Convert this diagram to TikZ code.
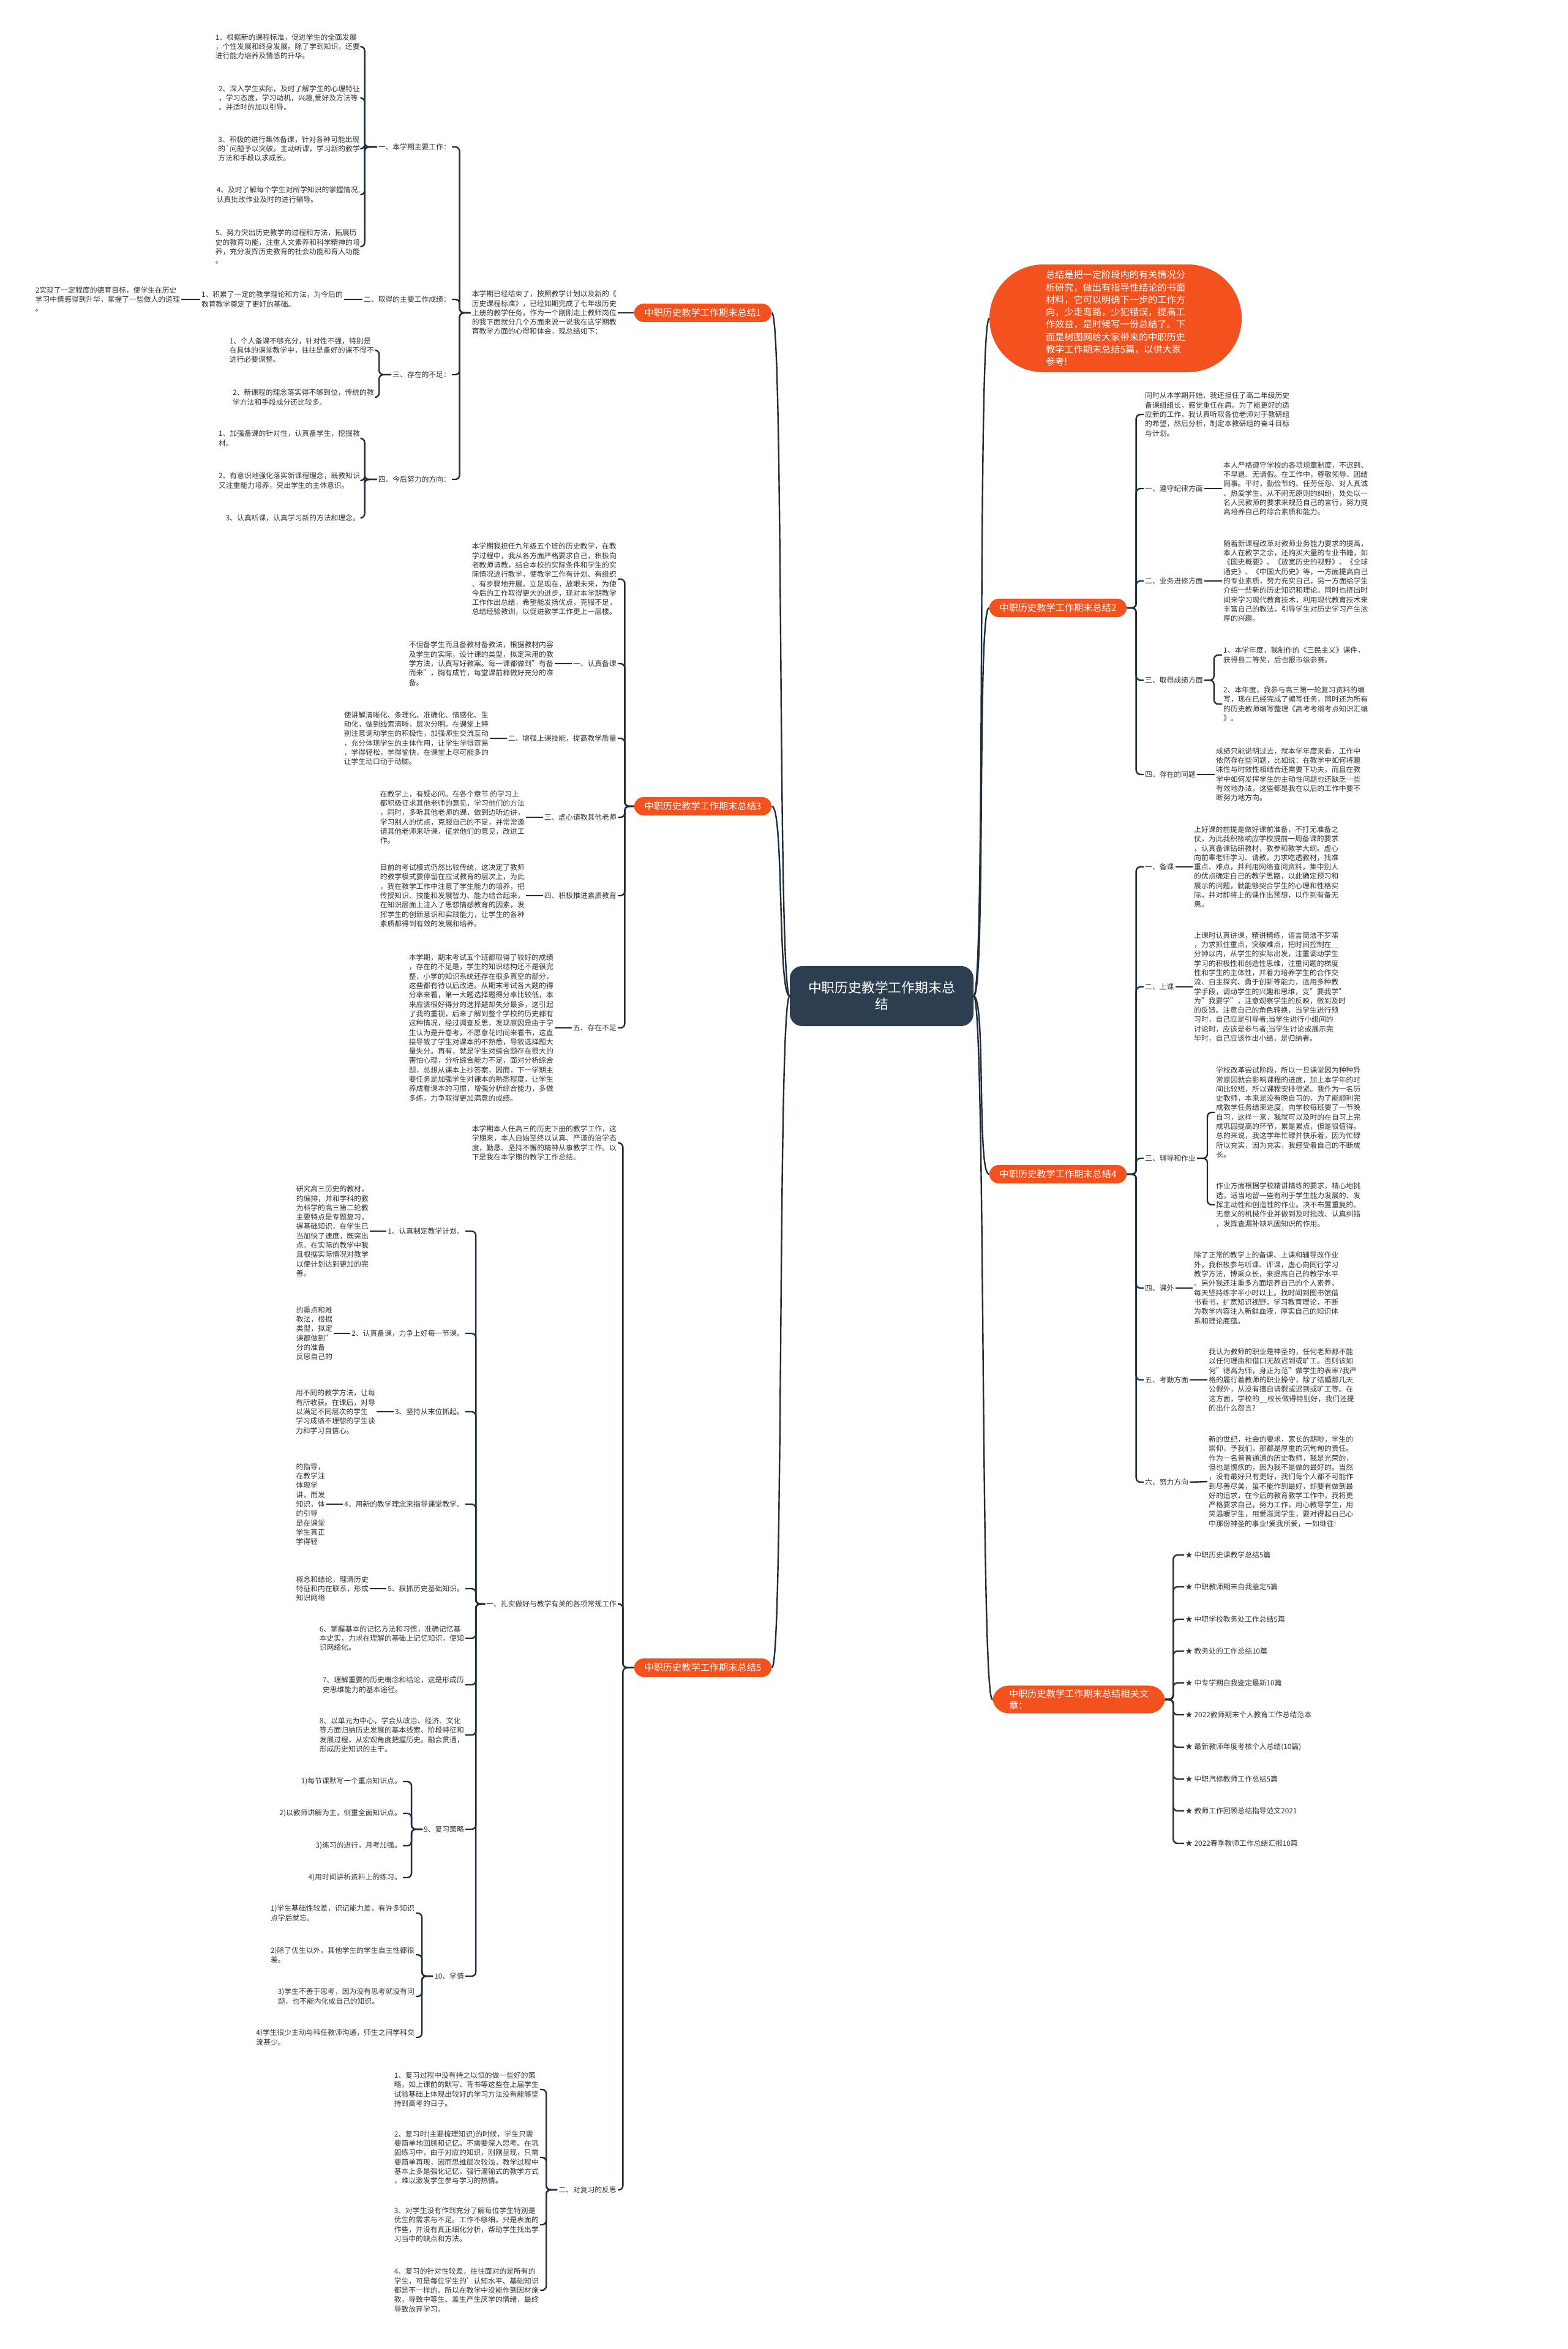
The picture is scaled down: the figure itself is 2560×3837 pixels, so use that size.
\documentclass[tikz,border=0pt]{standalone}
\usepackage{fontspec}
\setmainfont{Noto Sans CJK SC}
\usetikzlibrary{positioning}
\definecolor{brorange}{HTML}{F3521F}
\definecolor{rootblue}{HTML}{2C3E50}
\definecolor{linkcol}{HTML}{1F2D3D}
\definecolor{txtgray}{HTML}{333333}
\begin{document}
\begin{tikzpicture}[x=1pt,y=-1pt,
    cn/.style={draw=linkcol,line width=2.4pt},
    txt/.style={font=\fontsize{11.8}{15.3}\selectfont,text=txtgray,align=left,inner sep=2pt},
    lt/.style={txt,anchor=east},
    rt/.style={txt,anchor=west},
    branch/.style={fill=brorange,rounded corners=16pt,text=white,align=left,
                   font=\fontsize{15.2}{19}\selectfont,inner xsep=17pt,inner ysep=8pt},
    root/.style={fill=rootblue,rounded corners=20pt,text=white,align=center,
                 font=\fontsize{21.8}{27}\selectfont,minimum width=300pt,minimum height=98pt},
    note/.style={fill=brorange,rounded corners=88pt,text=white,align=left,
                 font=\fontsize{15.2}{20.3}\selectfont,minimum width=412pt,minimum height=176pt},
    lk/.style={cn,rounded corners=7pt,to path={-- ++(-#1,0) |- (\tikztotarget)}},
    lk/.default=15,
    rk/.style={cn,rounded corners=7pt,to path={-- ++(#1,0) |- (\tikztotarget)}},
    rk/.default=15
  ]
\useasboundingbox (0,0) rectangle (2560,3837);
\fill[white] (0,0) rectangle (2560,3837);

% centre
\node[root] (c) at (1440,1627) {中职历史教学工作期末总\\结};

% summary note
\node[note] (t0) at (1822,520) {总结是把一定阶段内的有关情况分\\析研究，做出有指导性结论的书面\\材料，它可以明确下一步的工作方\\向，少走弯路，少犯错误，提高工\\作效益，是时候写一份总结了。下\\面是树图网给大家带来的中职历史\\教学工作期末总结5篇，以供大家\\参考!};

% branch 1
\node[branch] (b1) at (1148,511) {中职历史教学工作期末总结1};
\node[lt] (b1p) at (1009,511) {本学期已经结束了，按照教学计划以及新的《\\历史课程标准》，已经如期完成了七年级历史\\上册的教学任务，作为一个刚刚走上教师岗位\\的我下面就分几个方面来说一说我在这学期教\\育教学方面的心得和体会，现总结如下：};
\node[lt] (b1s1) at (738,240) {一、本学期主要工作：};
\node[lt] (b1s2) at (738,489) {二、取得的主要工作成绩：};
\node[lt] (b1s3) at (738,612) {三、存在的不足：};
\node[lt] (b1s4) at (738,783) {四、今后努力的方向：};
\node[lt] (b1a1) at (590,76) {1、根据新的课程标准，促进学生的全面发展\\，个性发展和终身发展。除了学到知识，还要\\进行能力培养及情感的升华。};
\node[lt] (b1a2) at (590,160) {2、深入学生实际，及时了解学生的心理特征\\，学习态度，学习动机，兴趣,爱好及方法等\\。并适时的加以引导。};
\node[lt] (b1a3) at (590,243) {3、积极的进行集体备课，针对各种可能出现\\的\textasciigrave 问题予以突破。主动听课，学习新的教学\\方法和手段以求成长。};
\node[lt] (b1a4) at (590,318) {4、及时了解每个学生对所学知识的掌握情况,\\认真批改作业及时的进行辅导。};
\node[lt] (b1a5) at (590,403) {5、努力突出历史教学的过程和方法，拓展历\\史的教育功能，注重人文素养和科学精神的培\\养，充分发挥历史教育的社会功能和育人功能\\。};
\node[lt] (b1b1) at (562,489) {1、积累了一定的教学理论和方法，为今后的\\教育教学奠定了更好的基础。};
\node[lt] (b1b2) at (296,489) {2实现了一定程度的德育目标，使学生在历史\\学习中情感得到升华，掌握了一些做人的道理\\。};
\node[lt] (b1c1) at (613,572) {1、个人备课不够充分，针对性不强，特别是\\在具体的课堂教学中，往往是备好的课不得不\\进行必要调整。};
\node[lt] (b1c2) at (613,649) {2、新课程的理念落实得不够到位，传统的教\\学方法和手段成分还比较多。};
\node[lt] (b1d1) at (590,716) {1、加强备课的针对性，认真备学生，挖掘教\\材。};
\node[lt] (b1d2) at (590,785) {2、有意识地强化落实新课程理念，既教知识\\又注重能力培养，突出学生的主体意识。};
\node[lt] (b1d3) at (590,846) {3、认真听课，认真学习新的方法和理念。};

% branch 3
\node[branch] (b3) at (1148,1317) {中职历史教学工作期末总结3};
\node[lt] (b3p) at (1009,946) {本学期我担任九年级五个班的历史教学，在教\\学过程中，我从各方面严格要求自己，积极向\\老教师请教，结合本校的实际条件和学生的实\\际情况进行教学，使教学工作有计划、有组织\\、有步骤地开展。立足现在，放眼未来，为使\\今后的工作取得更大的进步，现对本学期教学\\工作作出总结，希望能发扬优点，克服不足，\\总结经验教训，以促进教学工作更上一层楼。};
\node[lt] (b3s1) at (1009,1084) {一、认真备课};
\node[lt] (b3s2) at (1009,1206) {二、增强上课技能，提高教学质量};
\node[lt] (b3s3) at (1009,1335) {三、虚心请教其他老师};
\node[lt] (b3s4) at (1009,1463) {四、积极推进素质教育};
\node[lt] (b3s5) at (1009,1679) {五、存在不足};
\node[lt] (b3t1) at (906,1084) {不但备学生而且备教材备教法，根据教材内容\\及学生的实际，设计课的类型，拟定采用的教\\学方法，认真写好教案。每一课都做到"有备\\而来"，胸有成竹，每堂课前都做好充分的准\\备。};
\node[lt] (b3t2) at (800,1206) {使讲解清晰化、条理化、准确化、情感化、生\\动化，做到线索清晰，层次分明。在课堂上特\\别注意调动学生的积极性，加强师生交流互动\\，充分体现学生的主体作用，让学生学得容易\\，学得轻松，学得愉快，在课堂上尽可能多的\\让学生动口动手动脑。};
\node[lt] (b3t3) at (859,1335) {在教学上，有疑必问。在各个章节 的学习上\\都积极征求其他老师的意见，学习他们的方法\\，同时，多听其他老师的课，做到边听边讲，\\学习别人的优点，克服自己的不足，并常常邀\\请其他老师来听课，征求他们的意见，改进工\\作。};
\node[lt] (b3t4) at (859,1463) {目前的考试模式仍然比较传统，这决定了教师\\的教学模式要停留在应试教育的层次上，为此\\，我在教学工作中注意了学生能力的培养，把\\传授知识、技能和发展智力、能力结合起来，\\在知识层面上注入了思想情感教育的因素，发\\挥学生的创新意识和实践能力，让学生的各种\\素质都得到有效的发展和培养。};
\node[lt] (b3t5) at (906,1679) {本学期，期末考试五个班都取得了较好的成绩\\，存在的不足是，学生的知识结构还不是很完\\整，小学的知识系统还存在很多真空的部分，\\这些都有待以后改进。从期末考试各大题的得\\分率来看，第一大题选择题得分率比较低，本\\来应该很好得分的选择题却失分最多，这引起\\了我的重视，后来了解到整个学校的历史都有\\这种情况，经过调查反思，发现原因是由于学\\生认为是开卷考，不愿意花时间来看书，这直\\接导致了学生对课本的不熟悉，导致选择题大\\量失分。再有，就是学生对综合题存在很大的\\害怕心理，分析综合能力不足，面对分析综合\\题，总想从课本上抄答案，因而，下一学期主\\要任务是加强学生对课本的熟悉程度，让学生\\养成看课本的习惯，增强分析综合能力，多做\\多练，力争取得更加满意的成绩。};

% branch 5
\node[branch] (b5) at (1148,2724) {中职历史教学工作期末总结5};
\node[lt] (b5p) at (1009,1867) {本学期本人任高三的历史下册的教学工作，这\\学期来，本人自始至终以认真、严谨的治学态\\度，勤恳、坚持不懈的精神从事教学工作。以\\下是我在本学期的教学工作总结。};
\node[lt] (b5s1) at (1009,2620) {一、扎实做好与教学有关的各项常规工作};
\node[lt] (b5s2) at (1009,3577) {二、对复习的反思};
\node[lt] (b5a1) at (760,2011) {1、认真制定教学计划。};
\node[lt] (b5a2) at (760,2178) {2、认真备课，力争上好每一节课。};
\node[lt] (b5a3) at (760,2306) {3、坚持从末位抓起。};
\node[lt] (b5a4) at (760,2457) {4、用新的教学理念来指导课堂教学。};
\node[lt] (b5a5) at (760,2595) {5、狠抓历史基础知识。};
\node[lt] (b5a6) at (760,2676) {6、掌握基本的记忆方法和习惯，准确记忆基\\本史实，力求在理解的基础上记忆知识，使知\\识网络化。};
\node[lt] (b5a7) at (760,2752) {7、理解重要的历史概念和结论，这是形成历\\史思维能力的基本途径。};
\node[lt] (b5a8) at (760,2834) {8、以单元为中心，学会从政治、经济、文化\\等方面归纳历史发展的基本线索、阶段特征和\\发展过程，从宏观角度把握历史。融会贯通，\\形成历史知识的主干。};
\node[lt] (b5a9) at (760,2988) {9、复习策略};
\node[lt] (b5a10) at (760,3228) {10、学情};
\node[lt] (b5a1t) at (604,2011) {研究高三历史的教材，\\的编排，并和学科的教\\为科学的高三第二轮教\\主要特点是专题复习，\\握基础知识，在学生已\\当加快了速度，既突出\\点。在实际的教学中我\\且根据实际情况对教学\\以使计划达到更加的完\\善。};
\node[lt] (b5a2t) at (545,2178) {的重点和难\\教法，根据\\类型，拟定\\课都做到"\\分的准备\\反思自己的};
\node[lt] (b5a3t) at (615,2306) {用不同的教学方法，让每\\有所收获。在课后，对导\\以满足不同层次的学生\\学习成绩不理想的学生谈\\力和学习自信心。};
\node[lt] (b5a4t) at (533,2457) {的指导，\\在教学注\\体现学\\讲，而发\\知识，体\\的引导\\是在课堂\\学生真正\\学得轻};
\node[lt] (b5a5t) at (604,2595) {概念和结论，理清历史\\特征和内在联系，形成\\知识网络};
\node[lt] (b5i1) at (658,2910) {1)每节课默写一个重点知识点。};
\node[lt] (b5i2) at (658,2962) {2)以教师讲解为主，侧重全面知识点。};
\node[lt] (b5i3) at (658,3015) {3)练习的进行，月考加强。};
\node[lt] (b5i4) at (658,3067) {4)用时间讲析资料上的练习。};
\node[lt] (b5j1) at (679,3125) {1)学生基础性较差，识记能力差，有许多知识\\点学后就忘。};
\node[lt] (b5j2) at (679,3193) {2)除了优生以外，其他学生的学生自主性都很\\差。};
\node[lt] (b5j3) at (679,3261) {3)学生不善于思考，因为没有思考就没有问\\题，也不能内化成自己的知识。};
\node[lt] (b5j4) at (679,3328) {4)学生很少主动与科任教师沟通，师生之间学科交\\流甚少。};
\node[lt] (b5k1) at (882,3413) {1、复习过程中没有持之以恒的做一些好的策\\略，如上课前的默写、背书等这些在上届学生\\试验基础上体现出较好的学习方法没有能够坚\\持到高考的日子。};
\node[lt] (b5k2) at (882,3524) {2、复习时(主要梳理知识)的时候，学生只需\\要简单地回顾和记忆。不需要深入思考。在巩\\固练习中，由于对应的知识，刚刚呈现，只需\\要简单再现，因而思维层次较浅，教学过程中\\基本上多是强化记忆，强行灌输式的教学方式\\，难以激发学生参与学习的热情。};
\node[lt] (b5k3) at (882,3634) {3、对学生没有作到充分了解每位学生特别是\\优生的需求与不足。工作不够细，只是表面的\\作些，并没有真正细化分析，帮助学生找出学\\习当中的缺点和方法。};
\node[lt] (b5k4) at (882,3741) {4、复习的针对性较差，往往面对的是所有的\\学生，可是每位学生的'认知水平、基础知识\\都是不一样的。所以在教学中没能作到因材施\\教，导致中等生、差生产生厌学的情绪，最终\\导致放弃学习。};

% branch 2
\node[branch] (b2) at (1728,993) {中职历史教学工作期末总结2};
\node[rt] (b2p) at (1868,677) {同时从本学期开始，我还担任了高二年级历史\\备课组组长，感觉重任在肩。为了能更好的适\\应新的工作，我认真听取各位老师对于教研组\\的希望，然后分析，制定本教研组的奋斗目标\\与计划。};
\node[rt] (b2s1) at (1868,798) {一、遵守纪律方面};
\node[rt] (b2s2) at (1868,949) {二、业务进修方面};
\node[rt] (b2s3) at (1868,1111) {三、取得成绩方面};
\node[rt] (b2s4) at (1868,1265) {四、存在的问题};
\node[rt] (b2t1) at (1996,798) {本人严格遵守学校的各项规章制度，不迟到、\\不早退、无请假。在工作中，尊敬领导、团结\\同事。平时，勤俭节约、任劳任怨、对人真诚\\、热爱学生、从不闹无原则的纠纷，处处以一\\名人民教师的要求来规范自己的言行，努力提\\高培养自己的综合素质和能力。};
\node[rt] (b2t2) at (1996,949) {随着新课程改革对教师业务能力要求的提高，\\本人在教学之余，还购买大量的专业书籍，如\\《国史概要》、《放宽历史的视野》、《全球\\通史》、《中国大历史》等，一方面提高自己\\的专业素质，努力充实自己，另一方面给学生\\介绍一些新的历史知识和理论。同时也挤出时\\间来学习现代教育技术，利用现代教育技术来\\丰富自己的教法，引导学生对历史学习产生浓\\厚的兴趣。};
\node[rt] (b2c1) at (1996,1070) {1、本学年度，我制作的《三民主义》课件，\\获得县二等奖，后也报市级参赛。};
\node[rt] (b2c2) at (1996,1150) {2、本年度，我参与高三第一轮复习资料的编\\写，现在已经完成了编写任务，同时还为所有\\的历史教师编写整理《高考考纲考点知识汇编\\》。};
\node[rt] (b2t4) at (1984,1265) {成绩只能说明过去，就本学年度来看，工作中\\依然存在些问题，比如说：在教学中如何将趣\\味性与时效性相结合还需要下功夫，而且在教\\学中如何发挥学生的主动性问题也还缺乏一些\\有效地办法，这些都是我在以后的工作中要不\\断努力地方向。};

% branch 4
\node[branch] (b4) at (1728,1918) {中职历史教学工作期末总结4};
\node[rt] (b4s1) at (1868,1416) {一、备课};
\node[rt] (b4s2) at (1868,1612) {二、上课};
\node[rt] (b4s3) at (1868,1892) {三、辅导和作业};
\node[rt] (b4s4) at (1868,2104) {四、课外};
\node[rt] (b4s5) at (1868,2254) {五、考勤方面};
\node[rt] (b4s6) at (1868,2421) {六、努力方向};
\node[rt] (b4t1) at (1948,1416) {上好课的前提是做好课前准备，不打无准备之\\仗，为此我积极响应学校提前一周备课的要求\\，认真备课钻研教材，教参和教学大纲。虚心\\向前辈老师学习、请教，力求吃透教材，找准\\重点、难点，并利用网络查阅资料，集中别人\\的优点确定自己的教学思路，以此确定预习和\\展示的问题，就能够契合学生的心理和性格实\\际，并对即将上的课作出预想，以作到有备无\\患。};
\node[rt] (b4t2) at (1948,1612) {上课时认真讲课，精讲精练，语言简洁不罗嗦\\，力求抓住重点，突破难点，把时间控制在\_\_\\分钟以内，从学生的实际出发，注重调动学生\\学习的积极性和创造性思维，注重问题的梯度\\性和学生的主体性，并着力培养学生的合作交\\流、自主探究、勇于创新等能力，运用多种教\\学手段，调动学生的兴趣和思维，变"要我学"\\为"我要学"，注意观察学生的反映，做到及时\\的反馈。注意自己的角色转换，当学生进行预\\习时，自己应是引导者;当学生进行小组间的\\讨论时，应该是参与者;当学生讨论或展示完\\毕时，自己应该作出小结，是归纳者。};
\node[rt] (b4c1) at (1984,1817) {学校改革尝试阶段，所以一旦课堂因为种种异\\常原因就会影响课程的进度，加上本学年的时\\间比较短，所以课程安排很紧。我作为一名历\\史教师，本来是没有晚自习的，为了能顺利完\\成教学任务结束进度，向学校每班要了一节晚\\自习，这样一来，我就可以及时的在自习上完\\成巩固提高的环节，累是累点，但是很值得。\\总的来说，我这学年忙碌并快乐着，因为忙碌\\所以充实，因为充实，我感受着自己的不断成\\长。};
\node[rt] (b4c2) at (1984,1968) {作业方面根据学校精讲精练的要求，精心地挑\\选，适当地留一些有利于学生能力发展的、发\\挥主动性和创造性的作业。决不布置重复的、\\无意义的机械作业并做到及时批改、认真纠错\\，发挥查漏补缺巩固知识的作用。};
\node[rt] (b4t4) at (1948,2104) {除了正常的教学上的备课、上课和辅导改作业\\外，我积极参与听课、评课，虚心向同行学习\\教学方法，博采众长，来提高自己的教学水平\\。另外我还注重多方面培养自己的个人素养，\\每天坚持练字半小时以上。找时间到图书馆借\\书看书，扩宽知识视野，学习教育理论，不断\\为教学内容注入新鲜血液，厚实自己的知识体\\系和理论底蕴。};
\node[rt] (b4t5) at (1972,2254) {我认为教师的职业是神圣的，任何老师都不能\\以任何理由和借口无故迟到或旷工。否则该如\\何"德高为师，身正为范"做学生的表率?我严\\格的履行着教师的职业操守，除了结婚那几天\\公假外，从没有擅自请假或迟到或旷工等。在\\这方面，学校的\_\_校长做得特别好，我们还提\\的出什么怨言?};
\node[rt] (b4t6) at (1972,2420) {新的世纪，社会的要求，家长的期盼，学生的\\崇仰，予我们，那都是厚重的沉甸甸的责任。\\作为一名普普通通的历史教师，我是光荣的，\\但也是愧疚的，因为我不是做的最好的。当然\\，没有最好只有更好，我们每个人都不可能作\\到尽善尽美，虽不能作到最好，却要有做到最\\好的追求，在今后的教育教学工作中，我将更\\严格要求自己，努力工作，用心教导学生，用\\笑温暖学生，用爱滋润学生，要对得起自己心\\中那份神圣的事业!爱我所爱，一如继往!};

% related articles
\node[branch,rounded corners=26pt,inner xsep=27pt,inner ysep=6pt] (b6) at (1762,2776) {中职历史教学工作期末总结相关文\\章：};
\node[rt] (r1) at (1934,2540) {★ 中职历史课教学总结5篇};
\node[rt] (r2) at (1934,2592) {★ 中职教师期末自我鉴定5篇};
\node[rt] (r3) at (1934,2645) {★ 中职学校教务处工作总结5篇};
\node[rt] (r4) at (1934,2697) {★ 教务处的工作总结10篇};
\node[rt] (r5) at (1934,2749) {★ 中专学期自我鉴定最新10篇};
\node[rt] (r6) at (1934,2801) {★ 2022教师期末个人教育工作总结范本};
\node[rt] (r7) at (1934,2854) {★ 最新教师年度考核个人总结(10篇)};
\node[rt] (r8) at (1934,2906) {★ 中职汽修教师工作总结5篇};
\node[rt] (r9) at (1934,2958) {★ 教师工作回顾总结指导范文2021};
\node[rt] (r10) at (1934,3011) {★ 2022春季教师工作总结汇报10篇};

% links from the centre
\draw[cn] (c.west) .. controls +(-20,0) and +(20,0) .. (b1.east);
\draw[cn] (c.west) .. controls +(-20,0) and +(20,0) .. (b3.east);
\draw[cn] (c.west) .. controls +(-20,0) and +(20,0) .. (b5.east);
\draw[cn] (c.east) .. controls +(20,0) and +(-20,0) .. (t0.west);
\draw[cn] (c.east) .. controls +(20,0) and +(-20,0) .. (b2.west);
\draw[cn] (c.east) .. controls +(20,0) and +(-20,0) .. (b4.west);
\draw[cn] (c.east) .. controls +(20,0) and +(-20,0) .. (b6.west);

% branch 1 links
\draw[cn] (b1.west) -- (b1p.east);
\path (b1p.west) edge[lk=18] (b1s1.east) edge[lk=18] (b1s2.east)
                 edge[lk=18] (b1s3.east) edge[lk=18] (b1s4.east);
\path (b1s1.west) edge[lk=20] (b1a1.east) edge[lk=20] (b1a2.east) edge[lk=20] (b1a3.east)
                  edge[lk=20] (b1a4.east) edge[lk=20] (b1a5.east);
\draw[cn] (b1s2.west) -- (b1b1.east);
\draw[cn] (b1b1.west) -- (b1b2.east);
\path (b1s3.west) edge[lk=20] (b1c1.east) edge[lk=20] (b1c2.east);
\path (b1s4.west) edge[lk=20] (b1d1.east) edge[lk=20] (b1d2.east) edge[lk=20] (b1d3.east);

% branch 3 links
\path (b3.west) edge[lk] (b3p.east) edge[lk] (b3s1.east) edge[lk] (b3s2.east)
                edge[lk] (b3s3.east) edge[lk] (b3s4.east) edge[lk] (b3s5.east);
\draw[cn] (b3s1.west) -- (b3t1.east);
\draw[cn] (b3s2.west) -- (b3t2.east);
\draw[cn] (b3s3.west) -- (b3t3.east);
\draw[cn] (b3s4.west) -- (b3t4.east);
\draw[cn] (b3s5.west) -- (b3t5.east);

% branch 5 links
\path (b5.west) edge[lk=18] (b5p.east) edge[lk=18] (b5s1.east) edge[lk=18] (b5s2.east);
\path (b5s1.west) edge[lk] (b5a1.east) edge[lk] (b5a2.east) edge[lk] (b5a3.east)
                  edge[lk] (b5a4.east) edge[lk] (b5a5.east) edge[lk] (b5a6.east)
                  edge[lk] (b5a7.east) edge[lk] (b5a8.east) edge[lk] (b5a9.east)
                  edge[lk] (b5a10.east);
\draw[cn] (b5a1.west) -- (b5a1t.east);
\draw[cn] (b5a2.west) -- (b5a2t.east);
\draw[cn] (b5a3.west) -- (b5a3t.east);
\draw[cn] (b5a4.west) -- (b5a4t.east);
\draw[cn] (b5a5.west) -- (b5a5t.east);
\path (b5a9.west) edge[lk=18] (b5i1.east) edge[lk=18] (b5i2.east)
                  edge[lk=18] (b5i3.east) edge[lk=18] (b5i4.east);
\path (b5a10.west) edge[lk=18] (b5j1.east) edge[lk=18] (b5j2.east)
                   edge[lk=18] (b5j3.east) edge[lk=18] (b5j4.east);
\path (b5s2.west) edge[lk=18] (b5k1.east) edge[lk=18] (b5k2.east)
                  edge[lk=18] (b5k3.east) edge[lk=18] (b5k4.east);

% branch 2 links
\path (b2.east) edge[rk] (b2p.west) edge[rk] (b2s1.west) edge[rk] (b2s2.west)
                edge[rk] (b2s3.west) edge[rk] (b2s4.west);
\draw[cn] (b2s1.east) -- (b2t1.west);
\draw[cn] (b2s2.east) -- (b2t2.west);
\path (b2s3.east) edge[rk=16] (b2c1.west) edge[rk=16] (b2c2.west);
\draw[cn] (b2s4.east) -- (b2t4.west);

% branch 4 links
\path (b4.east) edge[rk] (b4s1.west) edge[rk] (b4s2.west) edge[rk] (b4s3.west)
                edge[rk] (b4s4.west) edge[rk] (b4s5.west) edge[rk] (b4s6.west);
\draw[cn] (b4s1.east) -- (b4t1.west);
\draw[cn] (b4s2.east) -- (b4t2.west);
\path (b4s3.east) edge[rk=17] (b4c1.west) edge[rk=17] (b4c2.west);
\draw[cn] (b4s4.east) -- (b4t4.west);
\draw[cn] (b4s5.east) -- (b4t5.west);
\draw[cn] (b4s6.east) -- (b4t6.west);

% related article links
\path (b6.east) edge[rk=13] (r1.west) edge[rk=13] (r2.west) edge[rk=13] (r3.west)
                edge[rk=13] (r4.west) edge[rk=13] (r5.west) edge[rk=13] (r6.west)
                edge[rk=13] (r7.west) edge[rk=13] (r8.west) edge[rk=13] (r9.west)
                edge[rk=13] (r10.west);
\end{tikzpicture}
\end{document}
